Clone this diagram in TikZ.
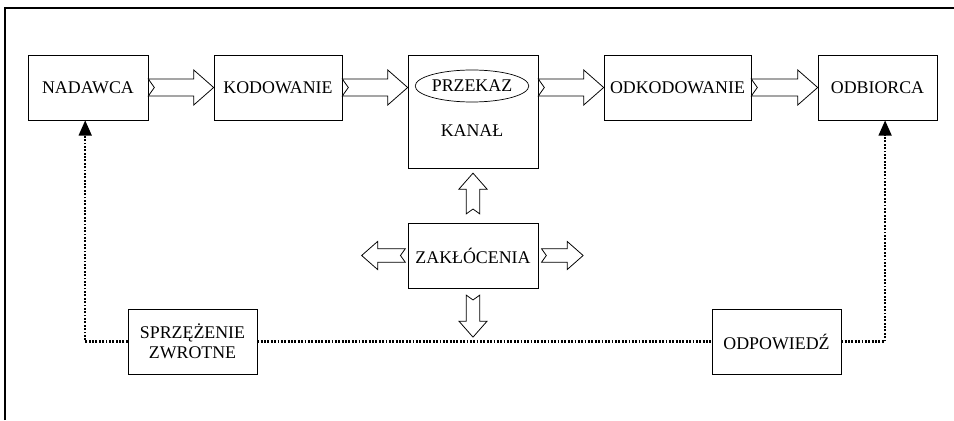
\documentclass[tikz,border=0pt]{standalone}
\usepackage{fontspec}
\setmainfont{Liberation Serif}
\usetikzlibrary{calc,shapes.geometric,arrows.meta}

\newcommand{\fatarrow}[3][1]{%
  \pgfmathsetlengthmacro\fashaft{0.21cm*#1}%
  \pgfmathsetlengthmacro\fahead{0.44cm*#1}%
  \pgfmathsetlengthmacro\falen{0.5cm*#1}%
  \pgfmathsetlengthmacro\fanotch{0.15cm*#1}%
  \coordinate (fa-b) at ($(#3)!\falen!(#2)$);
  \coordinate (fa-n) at ($(#2)!\fanotch!(#3)$);
  \draw[fat] ($(#2)!\fashaft!90:(#3)$) -- (fa-n) -- ($(#2)!\fashaft!-90:(#3)$)
    -- ($(fa-b)!\fashaft!-90:(#3)$) -- ($(fa-b)!\fahead!-90:(#3)$) -- (#3)
    -- ($(fa-b)!\fahead!90:(#3)$) -- ($(fa-b)!\fashaft!90:(#3)$) -- cycle;}

\begin{document}
\begin{tikzpicture}[
    font=\fontsize{12.7}{14.5}\selectfont,
    box/.style={rectangle, draw, line width=0.5pt, inner sep=0pt, align=center, minimum width=3.25cm, minimum height=1.625cm},
    fat/.style={draw, fill=white, line width=0.55pt, line join=miter},
    fb/.style={line width=1.5pt, dash pattern=on 1.3pt off 1.1pt},
    tip/.style={-{Triangle[length=0.38cm, width=0.32cm]}}
]
    \useasboundingbox (0,0) rectangle (23.85,10.5);
    \draw[line width=0.8pt] (0.125,0) -- (0.125,10.3) -- (23.85,10.3);

    \node[box, minimum width=3cm] (nad) at (2.2,8.3125) {NADAWCA};
    \node[box, minimum width=3.2cm] (kod) at (6.95,8.3125) {KODOWANIE};
    \node[box, minimum height=2.825cm] (kan) at (11.825,7.7125) {};
    \node[ellipse, draw, line width=0.5pt, inner sep=0pt, minimum width=2.78cm, minimum height=0.8cm] (prz) at (11.8,8.35) {PRZEKAZ};
    \node (kanal) at (11.8,7.225) {KANAŁ};
    \node[box, minimum width=3.675cm] (odk) at (16.9375,8.3125) {ODKODOWANIE};
    \node[box, minimum width=2.975cm] (odb) at (21.9375,8.3125) {ODBIORCA};
    \node[box] (zak) at (11.825,4.1125) {ZAKŁÓCENIA};
    \node[box, minimum width=3.225cm] (sprz) at (4.8125,1.9625) {SPRZĘŻENIE\\ZWROTNE};
    \node[box, minimum width=3.225cm] (odp) at (19.4125,1.9625) {ODPOWIEDŹ};

    \coordinate (kan-in) at (kan.west |- kod.east);
    \coordinate (kan-out) at (kan.east |- odk.west);
    \fatarrow{nad.east}{kod.west}
    \fatarrow{kod.east}{kan-in}
    \fatarrow{kan-out}{odk.west}
    \fatarrow{odk.east}{odb.west}

    \coordinate (zu-s) at ($(zak.north)+(0,0.22)$);
    \coordinate (zu-e) at ($(kan.south)+(0,-0.12)$);
    \coordinate (zl-s) at ($(zak.west)+(-0.06,0)$);
    \coordinate (zl-e) at ($(zak.west)+(-1.15,0)$);
    \coordinate (zr-s) at ($(zak.east)+(0.08,0)$);
    \coordinate (zr-e) at ($(zak.east)+(1.12,0)$);
    \coordinate (zd-s) at ($(zak.south)+(0,-0.17)$);
    \coordinate (zd-e) at ($(zak.south)+(0,-1.22)$);
    \fatarrow[0.8]{zu-s}{zu-e}
    \fatarrow[0.8]{zl-s}{zl-e}
    \fatarrow[0.8]{zr-s}{zr-e}
    \fatarrow[0.8]{zd-s}{zd-e}

    \coordinate (nad-in) at ($(nad.south)+(-0.07,0)$);
    \coordinate (odb-in) at ($(odb.south)+(0.19,0)$);
    \draw[fb, tip] (sprz.west) -| (nad-in);
    \draw[fb] (sprz.east) -- (odp.west);
    \draw[fb, tip] (odp.east) -| (odb-in);
\end{tikzpicture}
\end{document}
